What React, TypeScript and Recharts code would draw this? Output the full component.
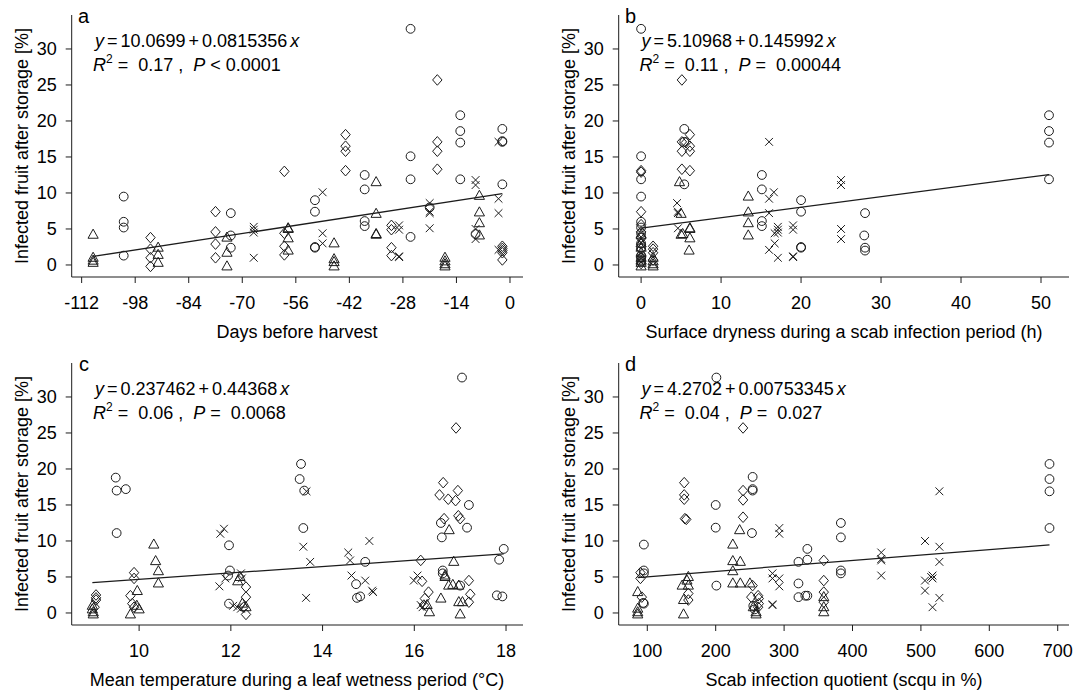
import React from "react";
import { ScatterChart, Scatter, XAxis, YAxis, ReferenceLine } from "recharts";

const FONT = '"Liberation Sans", Arial, Helvetica, sans-serif';
const INK = "#1c1c1c";
const NBSP = "\u00a0";

type Pt = [number, number];

// shared y axis
const Y_TICKS = [0, 5, 10, 15, 20, 25, 30];
const Y_DOMAIN: [number, number] = [-1.67, 34.72];

// panel a: days before harvest
const A_TICKS = [-112, -98, -84, -70, -56, -42, -28, -14, 0];
const A_DOMAIN: [number, number] = [-114.6, 3.4];
const A_FIT = [10.0699, 0.0815356];
const aCircle: Pt[] = [
  [-26, 32.8], [-101, 9.5], [-101, 6.0], [-101, 5.2], [-101, 1.3],
  [-73, 7.2], [-73, 4.1], [-73, 2.4],
  [-51, 9.0], [-51, 7.4], [-51, 2.4], [-51, 2.5],
  [-38, 12.5], [-38, 10.5], [-38, 6.1], [-38, 5.4],
  [-26, 15.1], [-26, 11.9], [-26, 3.9], [-21, 8.0],
  [-13, 20.8], [-13, 18.6], [-13, 17.0], [-13, 11.9], [-9, 4.3],
  [-2, 18.9], [-2, 17.1], [-2, 17.2], [-2, 11.2],
];
const aDiamond: Pt[] = [
  [-94, 3.8], [-94, 2.2], [-94, 1.0], [-94, -0.2],
  [-77, 7.4], [-77, 4.6], [-77, 2.9], [-77, 1.0],
  [-59, 13.0], [-59, 4.4], [-59, 2.6], [-59, 1.4],
  [-43, 18.1], [-43, 16.5], [-43, 15.8], [-43, 13.1],
  [-31, 5.5], [-31, 4.9], [-31, 2.4], [-31, 1.3],
  [-19, 25.7], [-19, 17.1], [-19, 15.8], [-19, 13.3],
  [-2, 2.6], [-2, 2.3], [-2, 2.0], [-2, 1.7], [-2, 0.7],
];
const aTriangle: Pt[] = [
  [-109, 4.2], [-109, 1.0], [-109, 0.6], [-109, 0.3],
  [-92, 2.4], [-92, 1.4], [-92, 0.3],
  [-74, 3.8], [-74, 1.7], [-74, -0.2],
  [-58, 5.1], [-58, 5.0], [-58, 3.7], [-58, 2.0],
  [-46, 3.0], [-46, 0.8], [-46, 0.4], [-46, -0.2],
  [-35, 11.5], [-35, 7.1], [-35, 4.2], [-35, 4.3],
  [-17, 1.0], [-17, 0.5], [-17, 0.1], [-17, -0.2],
  [-8, 9.6], [-8, 7.3], [-8, 5.8], [-8, 4.1],
];
const aCross: Pt[] = [
  [-67, 5.3], [-67, 4.9], [-67, 4.5], [-67, 1.0],
  [-49, 10.1], [-49, 4.4], [-49, 3.0],
  [-29, 5.5], [-29, 4.9], [-29, 1.1], [-29, 1.2],
  [-21, 8.6], [-21, 7.2], [-21, 7.4], [-21, 5.1],
  [-9, 11.8], [-9, 11.1], [-9, 5.0], [-9, 3.6],
  [-3, 17.1], [-3, 9.2], [-3, 7.2], [-3, 2.1],
];

// panel b: surface dryness (h)
const B_TICKS = [0, 10, 20, 30, 40, 50];
const B_DOMAIN: [number, number] = [-2.8, 53.5];
const B_FIT = [5.10968, 0.145992];
const bCircle: Pt[] = [
  [0, 32.8], [0, 15.1], [0, 11.9], [0, 9.5], [0, 6.0], [0, 5.2], [0, 4.4],
  [0, 3.8], [0, 3.0], [0, 2.4], [0, 1.3], [0, 1.0], [0, 0.5],
  [5.4, 18.9], [5.4, 17.1], [5.4, 11.2],
  [15.1, 12.5], [15.1, 10.5], [15.1, 6.1], [15.1, 5.4],
  [20, 9.0], [20, 7.4], [20, 2.4], [20, 2.5],
  [28, 7.2], [27.9, 4.1], [28, 2.4], [28, 2.0],
  [51, 20.8], [51, 18.6], [51, 17.0], [51, 11.9],
];
const bDiamond: Pt[] = [
  [0, 13.1], [0, 12.9], [0, 7.4], [0, 5.6], [0, 4.6], [0, 3.8], [0, 2.9],
  [0, 2.2], [0, 1.0], [0, 0.2],
  [1.5, 2.6], [1.5, 2.2], [1.5, 1.7], [1.5, 0.7],
  [5.1, 25.7], [5.1, 17.1], [5.1, 15.8], [5.1, 13.3],
  [6.1, 18.1], [6.1, 16.5], [6.1, 15.8], [6.1, 13.1], [5.6, 17.0],
];
const bTriangle: Pt[] = [
  [0, 4.2], [0, 3.0], [0, 2.4], [0, 1.7], [0, 1.0], [0, 0.6], [0, 0.3], [0, -0.2],
  [1.5, 1.0], [1.5, 0.5], [1.5, 0.1], [1.5, -0.2],
  [4.8, 11.5], [5.0, 7.1], [5.0, 4.2], [5.2, 4.3],
  [6.1, 5.1], [6.1, 5.0], [6.1, 3.7], [6.0, 2.0],
  [13.4, 9.5], [13.4, 7.3], [13.4, 5.8], [13.4, 4.1],
];
const bCross: Pt[] = [
  [4.5, 8.6], [4.6, 7.2], [4.6, 7.4], [4.6, 5.1],
  [16, 17.1], [16, 9.2], [16, 7.2], [16, 2.1],
  [16.6, 10.1], [16.7, 4.4], [16.7, 3.0],
  [17.1, 5.3], [17.1, 4.9], [17.1, 4.5], [17.1, 1.0],
  [19, 5.5], [19, 4.9], [19, 1.1], [19, 1.2],
  [25, 11.8], [25, 11.1], [25, 5.0], [25, 3.6],
];

// panel c: mean temperature (°C)
const C_TICKS = [10, 12, 14, 16, 18];
const C_DOMAIN: [number, number] = [8.53, 18.37];
const C_FIT = [0.237462, 0.44368];
const cCircle: Pt[] = [
  [9.49, 18.8], [9.51, 17.0], [9.71, 17.2], [9.51, 11.1],
  [11.96, 9.4], [11.98, 5.9], [11.94, 5.2], [11.96, 1.3],
  [13.5, 18.6], [13.53, 20.7], [13.6, 17.0], [13.58, 11.8],
  [14.93, 7.1], [14.73, 4.0], [14.75, 2.1], [14.82, 2.3],
  [16.58, 12.5], [16.6, 10.5], [16.62, 5.9], [16.62, 5.5], [17.0, 3.8],
  [17.04, 32.7], [17.19, 15.0], [17.15, 11.85],
  [17.85, 7.4], [17.95, 8.9], [17.8, 2.45], [17.92, 2.3],
];
const cDiamond: Pt[] = [
  [9.06, 2.5], [9.06, 2.1], [9.06, 1.8], [9.03, 0.8],
  [9.89, 5.6], [9.89, 4.8], [9.81, 2.4], [9.85, 1.3], [9.89, 0.8],
  [12.33, 3.6], [12.33, 2.2], [12.33, -0.2], [12.28, 0.8],
  [16.14, 7.3], [16.17, 4.4], [16.31, 2.9], [16.23, 2.0], [16.21, 1.1],
  [16.63, 18.1], [16.55, 16.4], [16.74, 15.8], [16.95, 17.0], [16.9, 15.6],
  [16.65, 13.1], [16.96, 13.5], [17.0, 13.1], [16.91, 25.7],
  [17.19, 4.5], [17.22, 2.6], [17.19, 1.5],
];
const cTriangle: Pt[] = [
  [8.98, 1.0], [8.98, 0.5], [9.0, 0.1], [9.0, -0.2],
  [9.81, -0.2], [9.96, 3.05], [10.0, 0.5], [9.95, 1.0],
  [10.32, 9.5], [10.36, 7.2], [10.42, 5.8], [10.42, 4.1],
  [12.15, 4.4], [12.25, 1.3], [12.33, 0.8], [12.2, 5.0],
  [16.33, 0.1], [16.28, 1.1], [16.58, 2.0], [16.67, 5.2], [16.75, 3.8], [16.67, 5.0],
  [16.76, 11.5], [16.86, 7.1], [16.97, 3.8], [16.84, 3.9],
  [17.0, -0.2], [16.97, 1.5], [17.05, 1.5],
];
const cCross: Pt[] = [
  [11.77, 11.0], [11.85, 11.7], [11.75, 3.7],
  [11.88, 4.8], [12.22, 5.5], [12.24, 4.8],
  [12.05, 1.0], [12.14, 0.8], [12.22, 0.6],
  [13.65, 16.9], [13.58, 9.2], [13.73, 7.1], [13.64, 2.1],
  [14.56, 8.4], [14.6, 7.3], [14.63, 5.2],
  [15.02, 10.0], [14.93, 4.5], [15.08, 3.1], [15.1, 2.9],
  [15.99, 4.5], [16.07, 5.2], [16.14, 1.1], [16.18, 0.8],
];

// panel d: scab infection quotient (%)
const D_TICKS = [100, 200, 300, 400, 500, 600, 700];
const D_DOMAIN: [number, number] = [58.2, 716.5];
const D_FIT = [4.2702, 0.00753345];
const dCircle: Pt[] = [
  [95, 9.5], [95, 5.9], [95, 5.5], [94, 1.4], [95, 1.3],
  [201, 32.7], [200, 15.0], [200, 11.85], [201, 3.8],
  [254, 18.9], [254, 17.2], [254, 17.0], [253, 11.1], [255, 1.0], [257, 0.5],
  [321, 7.1], [321, 4.1], [321, 2.2],
  [334, 8.9], [334, 7.4], [334, 2.4], [331, 2.4],
  [383, 12.5], [383, 10.5], [383, 5.9], [383, 5.5],
  [688, 20.7], [688, 18.6], [688, 16.9], [688, 11.8],
];
const dDiamond: Pt[] = [
  [90, 5.6], [90, 4.8], [92, 2.2],
  [154, 18.1], [154, 16.4], [154, 15.8], [155, 13.1], [157, 13.0],
  [160, 2.7], [160, 1.8],
  [240, 25.7], [240, 17.0], [240, 15.7], [240, 13.3],
  [254, 3.8], [252, 2.2],
  [262, 2.4], [263, 2.0], [263, 1.3], [262, 0.8],
  [358, 7.3], [358, 4.5], [358, 2.9], [358, 1.5],
];
const dTriangle: Pt[] = [
  [86, 2.9], [86, 0.6], [86, 0.1], [86, -0.2],
  [153, -0.2], [151, 3.8], [153, 1.8], [160, 5.0], [160, 3.8], [158, 4.5],
  [225, 9.5], [225, 7.2], [225, 5.8], [225, 4.1],
  [235, 11.5], [236, 7.1], [236, 4.1], [250, 4.1],
  [259, 0.1], [259, -0.2], [255, 0.8],
  [358, 2.2], [358, 0.8], [358, 0.1],
];
const dCross: Pt[] = [
  [283, 5.5], [283, 4.8], [283, 1.1], [283, 1.2],
  [293, 11.8], [293, 11.0], [293, 4.8], [293, 3.7],
  [442, 8.4], [442, 7.3], [442, 7.5], [442, 5.2],
  [506, 10.0], [506, 4.5], [506, 3.1],
  [517, 5.2], [517, 4.8], [515, 5.0], [517, 0.8],
  [527, 16.9], [527, 9.2], [527, 7.1], [527, 2.1],
];

function CircleMark(props: any) {
  const { cx, cy } = props;
  if (cx == null || cy == null) return <g />;
  return <circle cx={cx} cy={cy} r={4.4} fill="none" stroke={INK} strokeWidth={1} />;
}

function DiamondMark(props: any) {
  const { cx, cy } = props;
  if (cx == null || cy == null) return <g />;
  const d = `M${cx},${cy - 5.3}L${cx + 4.7},${cy}L${cx},${cy + 5.3}L${cx - 4.7},${cy}Z`;
  return <path d={d} fill="none" stroke={INK} strokeWidth={1} />;
}

function TriangleMark(props: any) {
  const { cx, cy } = props;
  if (cx == null || cy == null) return <g />;
  const d = `M${cx},${cy - 5.6}L${cx + 5.1},${cy + 3.5}L${cx - 5.1},${cy + 3.5}Z`;
  return <path d={d} fill="none" stroke={INK} strokeWidth={1} />;
}

function CrossMark(props: any) {
  const { cx, cy } = props;
  if (cx == null || cy == null) return <g />;
  const s = 3.9;
  const d = `M${cx - s},${cy - s}L${cx + s},${cy + s}M${cx - s},${cy + s}L${cx + s},${cy - s}`;
  return <path d={d} fill="none" stroke={INK} strokeWidth={1} />;
}

const toRows = (pts: Pt[]) => pts.map(([x, y]) => ({ x, y }));

interface PanelProps {
  left: number;
  top: number;
  rightMargin: number;
  xDomain: [number, number];
  xTicks: number[];
  fit: number[];
  circles: Pt[];
  diamonds: Pt[];
  triangles: Pt[];
  crosses: Pt[];
}

function Panel({ left, top, rightMargin, xDomain, xTicks, fit, circles, diamonds, triangles, crosses }: PanelProps) {
  const xs = [...circles, ...diamonds, ...triangles, ...crosses].map((p) => p[0]);
  const x0 = Math.min(...xs);
  const x1 = Math.max(...xs);
  const tickStyle = { fill: "#000", fontSize: 18, fontFamily: FONT };

  return (
    <div style={{ position: "absolute", left, top }}>
      <ScatterChart width={538} height={345} margin={{ top: 15, right: rightMargin, bottom: 8, left: 0 }}>
        <XAxis
          type="number"
          dataKey="x"
          domain={xDomain}
          ticks={xTicks}
          interval={0}
          allowDataOverflow
          height={60}
          tickSize={6}
          tickMargin={13}
          stroke={INK}
          tick={tickStyle}
        />
        <YAxis
          type="number"
          dataKey="y"
          domain={Y_DOMAIN}
          ticks={Y_TICKS}
          interval={0}
          allowDataOverflow
          width={71.7}
          tickSize={6}
          tickMargin={9}
          stroke={INK}
          tick={tickStyle}
        />
        <ReferenceLine
          segment={[
            { x: x0, y: fit[0] + fit[1] * x0 },
            { x: x1, y: fit[0] + fit[1] * x1 },
          ]}
          stroke={INK}
          strokeWidth={1.3}
        />
        <Scatter data={toRows(circles)} shape={CircleMark} isAnimationActive={false} />
        <Scatter data={toRows(diamonds)} shape={DiamondMark} isAnimationActive={false} />
        <Scatter data={toRows(triangles)} shape={TriangleMark} isAnimationActive={false} />
        <Scatter data={toRows(crosses)} shape={CrossMark} isAnimationActive={false} />
      </ScatterChart>
    </div>
  );
}

function Fit({ x, y, line1, rel, p }: { x: number; y: number; line1: string; rel: string; p: string }) {
  return (
    <g>
      <text x={x + 2} y={y} wordSpacing={-2}>
        <tspan fontStyle="italic">y</tspan>
        <tspan>{` = ${line1} `}</tspan>
        <tspan fontStyle="italic">x</tspan>
      </text>
      <text x={x} y={y + 24}>
        <tspan fontStyle="italic">R</tspan>
        <tspan fontSize={12} dy={-8}>2</tspan>
        <tspan dy={8}>{` =${NBSP} ${rel} ,${NBSP} `}</tspan>
        <tspan fontStyle="italic">P</tspan>
        <tspan>{` ${p}`}</tspan>
      </text>
    </g>
  );
}

function Labels() {
  const yLabel = "Infected fruit after storage [%]";
  return (
    <svg
      width={1076}
      height={691}
      style={{ position: "absolute", left: 0, top: 0, pointerEvents: "none" }}
      fontFamily={FONT}
      fontSize={18}
      fill="#000"
    >
      <text x={78} y={23} fontSize={20}>a</text>
      <text x={625} y={23} fontSize={20}>b</text>
      <text x={79} y={371} fontSize={20}>c</text>
      <text x={625} y={371} fontSize={20}>d</text>

      <Fit x={93} y={46.7} line1="10.0699 + 0.0815356" rel="0.17" p="< 0.0001" />
      <Fit x={639.5} y={46.7} line1="5.10968 + 0.145992" rel="0.11" p={`=${NBSP} 0.00044`} />
      <Fit x={93} y={394.7} line1="0.237462 + 0.44368" rel="0.06" p={`=${NBSP} 0.0068`} />
      <Fit x={639.5} y={394.7} line1="4.2702 + 0.00753345" rel="0.04" p={`=${NBSP} 0.027`} />

      <text x={297} y={338} textAnchor="middle">Days before harvest</text>
      <text x={844} y={338} textAnchor="middle">Surface dryness during a scab infection period (h)</text>
      <text x={297} y={686} textAnchor="middle">Mean temperature during a leaf wetness period (°C)</text>
      <text x={844} y={686} textAnchor="middle">Scab infection quotient (scqu in %)</text>

      <text transform="translate(28,146) rotate(-90)" textAnchor="middle">{yLabel}</text>
      <text transform="translate(575,146) rotate(-90)" textAnchor="middle">{yLabel}</text>
      <text transform="translate(28,494) rotate(-90)" textAnchor="middle">{yLabel}</text>
      <text transform="translate(575,494) rotate(-90)" textAnchor="middle">{yLabel}</text>
    </svg>
  );
}

export default function App() {
  return (
    <div
      style={{
        position: "absolute",
        left: 0,
        top: 0,
        width: 1076,
        height: 691,
        overflow: "hidden",
        background: "#fff",
        fontFamily: FONT,
      }}
    >
      <Panel left={0} top={0} rightMargin={15} xDomain={A_DOMAIN} xTicks={A_TICKS} fit={A_FIT}
        circles={aCircle} diamonds={aDiamond} triangles={aTriangle} crosses={aCross} />
      <Panel left={547} top={0} rightMargin={16} xDomain={B_DOMAIN} xTicks={B_TICKS} fit={B_FIT}
        circles={bCircle} diamonds={bDiamond} triangles={bTriangle} crosses={bCross} />
      <Panel left={0} top={348} rightMargin={15} xDomain={C_DOMAIN} xTicks={C_TICKS} fit={C_FIT}
        circles={cCircle} diamonds={cDiamond} triangles={cTriangle} crosses={cCross} />
      <Panel left={547} top={348} rightMargin={16} xDomain={D_DOMAIN} xTicks={D_TICKS} fit={D_FIT}
        circles={dCircle} diamonds={dDiamond} triangles={dTriangle} crosses={dCross} />
      <Labels />
    </div>
  );
}
